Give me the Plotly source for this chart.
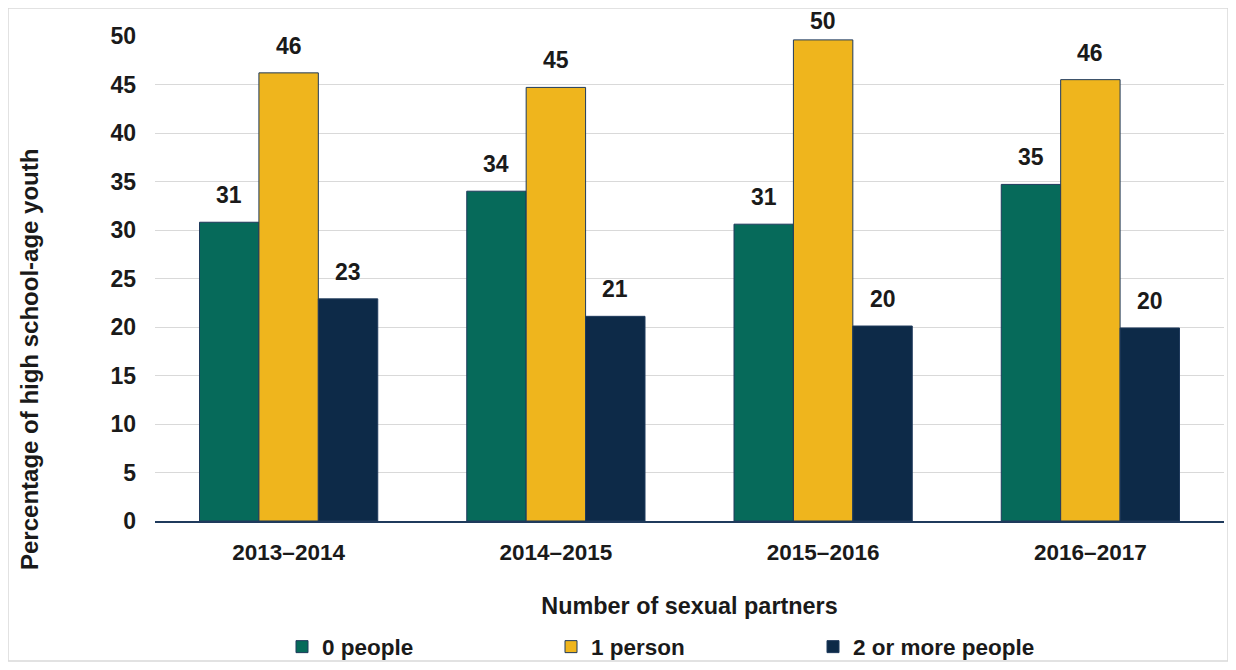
import plotly.graph_objects as go

categories = ["2013–2014", "2014–2015", "2015–2016", "2016–2017"]
series_names = ["0 people", "1 person", "2 or more people"]
zero_people = [30.8, 34.0, 30.6, 34.7]
one_person = [46.2, 44.7, 49.6, 45.5]
two_or_more = [22.9, 21.1, 20.1, 19.9]
y_ticks = [0, 5, 10, 15, 20, 25, 30, 35, 40, 45, 50]

series_values = [zero_people, one_person, two_or_more]
colors = ["#066a5a", "#efb51d", "#0d2a48"]
outline = "#1f3a5c"

FONT = "Liberation Sans, Arial, sans-serif"
TXT = "#1a1a1a"

# page body has an 8px margin: figure sized to fit the 1236x670 window
OFF = 8
W, H = 1236 - 2 * OFF, 670 - 2 * OFF
# plot area in window pixels
PX0, PX1, PY0, PY1 = 155, 1224, 36, 521
L, R, T, B = PX0 - OFF, W - (PX1 - OFF), PY0 - OFF, H - (PY1 - OFF)
pw, ph = PX1 - PX0, PY1 - PY0
YMAX = 50


def px(sx):
    return (sx - PX0) / pw


def py(sy):
    return (PY1 - sy) / ph


bargap = 0.333


def f(size):
    return dict(family=FONT, size=size, color=TXT, weight="bold")


fig = go.Figure()
legend_ids = ["legend", "legend2", "legend3"]
for j, (name, vals, col) in enumerate(zip(series_names, series_values, colors)):
    fig.add_trace(go.Bar(
        x=categories, y=vals, name=name,
        marker=dict(color=col, line=dict(color=outline, width=1)),
        legend=legend_ids[j],
    ))

# data labels above bars (kept inside the chart frame, as the original does)
bw = (1 - bargap) / 3
LABEL_H = 27
for j, vals in enumerate(series_values):
    for i, v in enumerate(vals):
        top_px = PY1 - v * ph / YMAX
        shift = min(12, top_px - LABEL_H - 9)
        fig.add_annotation(
            x=i + (j - 1) * bw, y=v, xref="x", yref="y",
            text=f"{v:.0f}", showarrow=False, yanchor="bottom", yshift=shift,
            font=f(23),
        )

# y axis title (offset downward as in reference)
fig.add_annotation(
    x=px(29), y=py(360), xref="paper", yref="paper",
    xanchor="center", yanchor="middle",
    text="Percentage of high school-age youth", textangle=-90, showarrow=False,
    font=f(24),
)
# chart border
fig.add_shape(type="rect", xref="paper", yref="paper",
              x0=px(8), x1=px(1228), y0=py(661), y1=py(8),
              line=dict(color="#d9d9d9", width=1.5))

leg_x = [282, 551, 813]
leg_common = dict(orientation="h", yanchor="middle", xanchor="left",
                  y=py(647), font=f(22.5), bgcolor="rgba(0,0,0,0)")

fig.update_layout(
    width=W, height=H,
    margin=dict(l=L, r=R, t=T, b=B, autoexpand=False),
    paper_bgcolor="white", plot_bgcolor="white",
    showlegend=True,
    barmode="group", bargap=bargap, bargroupgap=0,
    font=f(22),
    legend=dict(x=px(leg_x[0]), **leg_common),
    legend2=dict(x=px(leg_x[1]), **leg_common),
    legend3=dict(x=px(leg_x[2]), **leg_common),
    xaxis=dict(
        showline=True, linecolor=outline, linewidth=1.5, ticks="",
        tickfont=f(22.5),
        ticklabelstandoff=10,
        title=dict(text="Number of sexual partners", standoff=34, font=f(23.4)),
    ),
    yaxis=dict(
        range=[0, YMAX], tickvals=y_ticks, showgrid=True, gridcolor="#d9d9d9",
        gridwidth=1, zeroline=False, showline=False, ticks="",
        tickfont=f(23),
        ticklabelstandoff=18,
    ),
)

fig.write_html("out.html")
